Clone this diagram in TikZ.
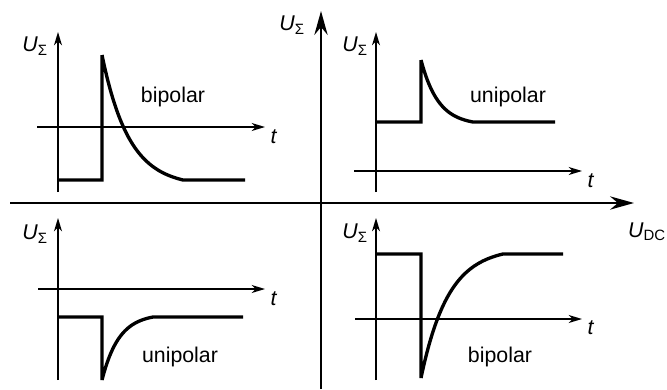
\documentclass[tikz,border=0pt]{standalone}
\usepackage{fontspec}
\setmainfont{Liberation Sans}
\usetikzlibrary{arrows.meta}
\newcommand{\usig}{\textit{U}\textsubscript{\upshape Σ}}
\tikzset{
  axis/.style={line width=1.1pt,-{Stealth[length=10pt,width=6pt,inset=3pt]}},
  mainaxis/.style={line width=1.6pt,-{Stealth[length=18pt,width=10pt,inset=6pt]}},
  curve/.style={line width=2.5pt,line join=miter},
}
\begin{document}
\begin{tikzpicture}[x=0.75pt,y=-0.75pt,font=\fontsize{16}{19}\selectfont]
  \useasboundingbox (0,0) rectangle (667,389);
  % main axes
  \coordinate (hl) at (10,203);
  \coordinate (hr) at (634,203);
  \coordinate (vb) at (321,389);
  \coordinate (vt) at (321,11);
  \draw[mainaxis] (hl) -- (hr);
  \draw[mainaxis] (vb) -- (vt);
  \node (udc) at (647,232) {\textit{U}\textsubscript{DC}};
  \node (usum) at (292,25) {\usig};

  % top left: bipolar
  \draw[axis] (58,192) -- (58,32);
  \draw[axis] (37,127) -- (265,127);
  \node (u1) at (35,46) {\usig};
  \node (t1) at (274,137) {\textit{t}};
  \node (l1) at (173,97) {bipolar};
  \draw[curve] (58,180) -- (102,180) -- (102,55)
    -- plot[domain=0:81,samples=60] ({102+\x},{180-125*(exp(-\x/27)-exp(-3))/(1-exp(-3))}) -- (245,180);

  % top right: unipolar
  \draw[axis] (376,192) -- (376,32);
  \draw[axis] (354,171) -- (582,171);
  \node (u2) at (355,46) {\usig};
  \node (t2) at (591,181) {\textit{t}};
  \node (l2) at (508,97) {unipolar};
  \draw[curve] (376,122) -- (421,122) -- (421,60)
    -- plot[domain=0:52,samples=50] ({421+\x},{122-62*(exp(-\x/17.3)-exp(-3))/(1-exp(-3))}) -- (555,122);

  % bottom left: unipolar
  \draw[axis] (58,380) -- (58,218);
  \draw[axis] (38,289) -- (265,289);
  \node (u3) at (35,234) {\usig};
  \node (t3) at (274,299) {\textit{t}};
  \node (l3) at (180,357) {unipolar};
  \draw[curve] (58,317) -- (102,317) -- (102,380)
    -- plot[domain=0:51,samples=50] ({102+\x},{317+63*(exp(-\x/17)-exp(-3))/(1-exp(-3))}) -- (243,317);

  % bottom right: bipolar
  \draw[axis] (376,380) -- (376,218);
  \draw[axis] (355,319) -- (582,319);
  \node (u4) at (355,233) {\usig};
  \node (t4) at (591,328) {\textit{t}};
  \node (l4) at (500,357) {bipolar};
  \draw[curve] (376,254) -- (421,254) -- (421,378)
    -- plot[domain=0:82,samples=60] ({421+\x},{254+124*(exp(-\x/27.3)-exp(-3))/(1-exp(-3))}) -- (563,254);
\end{tikzpicture}
\end{document}
